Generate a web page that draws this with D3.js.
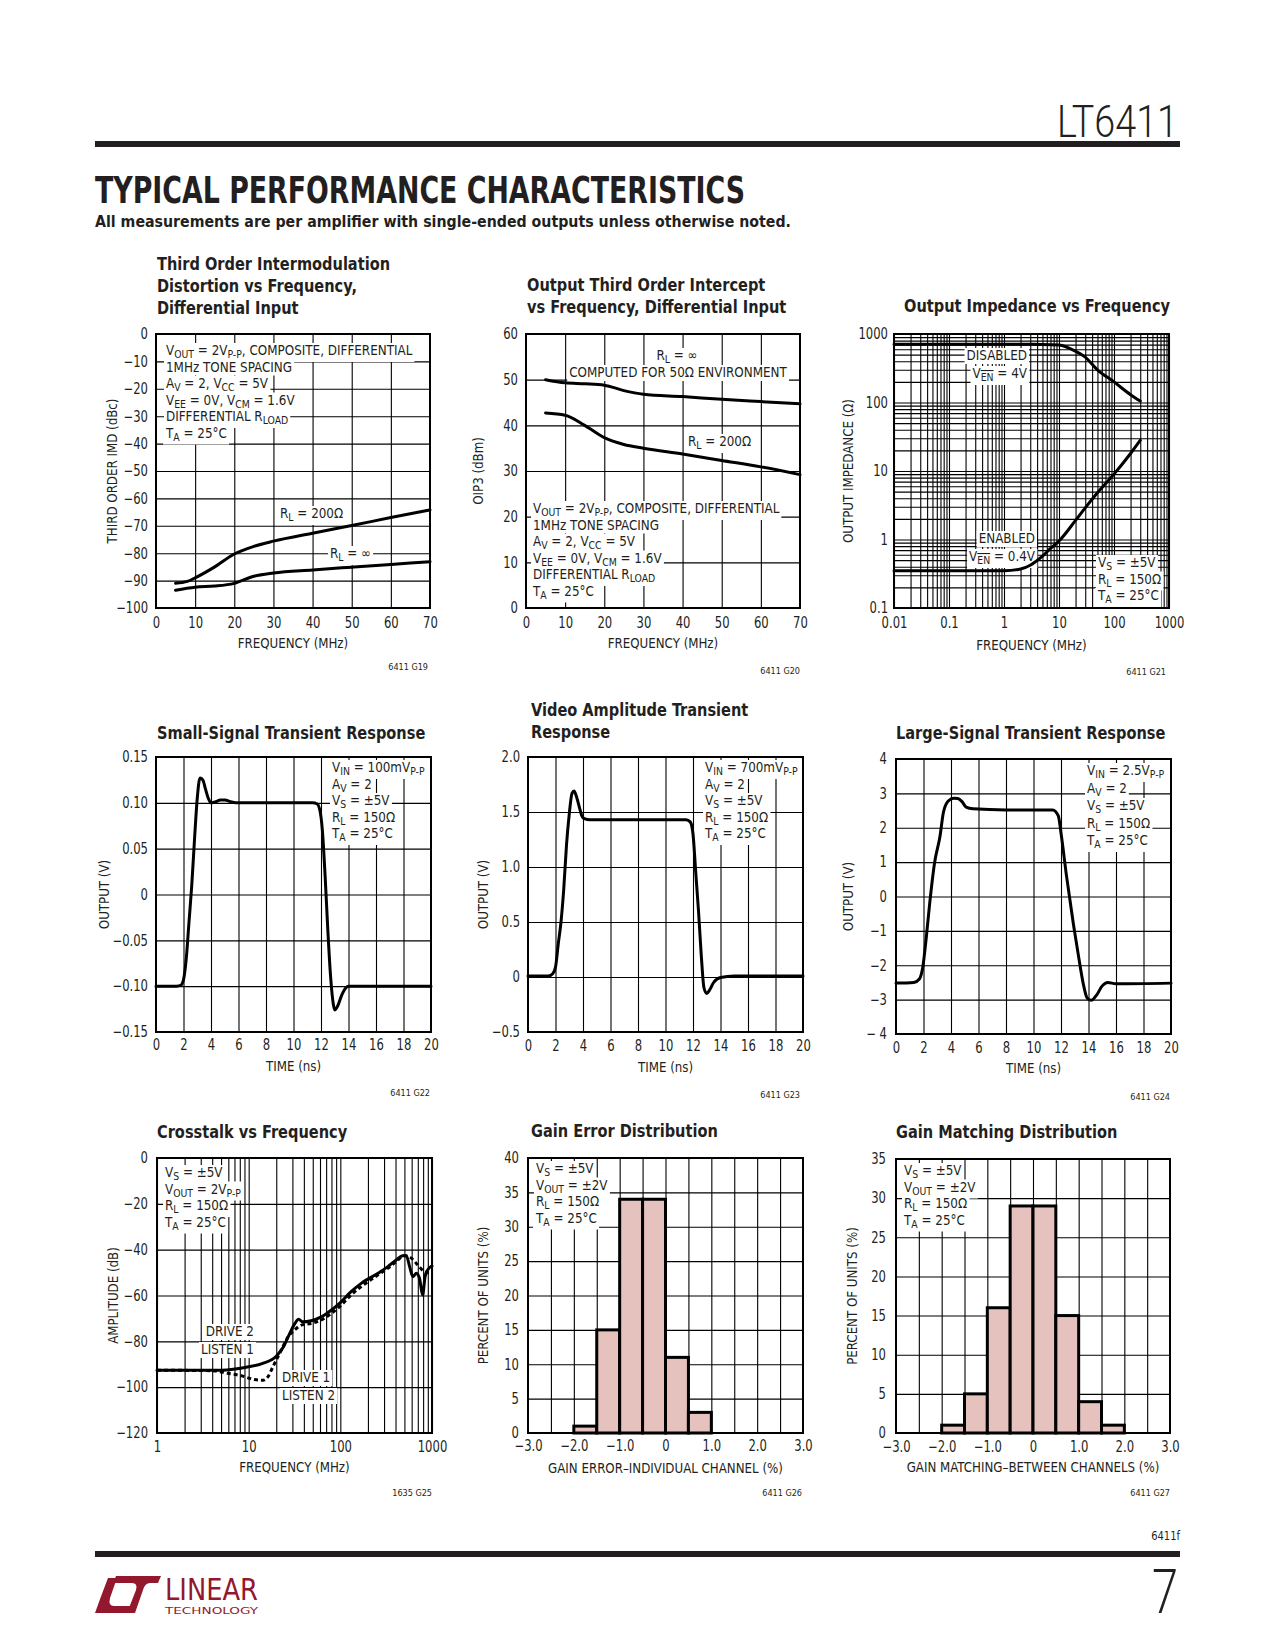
<!DOCTYPE html>
<html><head><meta charset="utf-8">
<script src="https://cdn.jsdelivr.net/npm/d3@7"></script>
<style>
body{margin:0;background:#fff;}
svg text{font-family:'Liberation Sans Narrow','DejaVu Sans Condensed','Arial Narrow',sans-serif;fill:#231f20;}
</style></head><body>
<svg id="page" width="1275" height="1650" xmlns="http://www.w3.org/2000/svg"></svg>
<script>
// ---------------- DATA ----------------
// G19 Third order IMD vs frequency
const imdFreq = [5, 8, 10, 15, 20, 25, 30, 40, 50, 60, 70];
const imdRL200 = [-91, -90.3, -89, -85, -80.3, -77.5, -75.6, -72.7, -69.9, -67, -64.2];
const imdFreqInf = [5, 10, 15, 20, 25, 30, 40, 50, 60, 70];
const imdRLinf = [-93.5, -92.4, -92, -91, -88.4, -87.2, -86.1, -85.1, -84.1, -83.1];
const imdXTicks = [0, 10, 20, 30, 40, 50, 60, 70];
const imdYTicks = [0, -10, -20, -30, -40, -50, -60, -70, -80, -90, -100];
const imdYLabels = ["0", "−10", "−20", "−30", "−40", "−50", "−60", "−70", "−80", "−90", "−100"];

// G20 OIP3 vs frequency
const oipFreq = [5, 10, 15, 20, 25, 30, 40, 50, 60, 70];
const oipRLinf = [50, 49.3, 49.1, 48.8, 47.6, 46.8, 46.3, 45.7, 45.2, 44.7];
const oipRL200 = [42.7, 42.2, 40, 37.3, 35.8, 35, 33.7, 32.3, 30.9, 29.2];
const oipXTicks = [0, 10, 20, 30, 40, 50, 60, 70];
const oipYTicks = [0, 10, 20, 30, 40, 50, 60];

// G21 Output impedance vs frequency
const zFreqDis = [0.01, 0.1, 1, 5, 10, 20, 30, 50, 100, 200, 300];
const zDisabled = [710, 710, 710, 705, 690, 560, 460, 300, 200, 130, 105];
const zFreqEn = [0.01, 0.1, 1, 2, 3, 5, 7, 10, 20, 30, 50, 100, 200, 300];
const zEnabled = [0.35, 0.35, 0.35, 0.37, 0.42, 0.57, 0.74, 0.95, 1.9, 2.9, 4.8, 9, 18, 28];
const zXTicks = [0.01, 0.1, 1, 10, 100, 1000];
const zXLabels = ["0.01", "0.1", "1", "10", "100", "1000"];
const zYTicks = [0.1, 1, 10, 100, 1000];
const zYLabels = ["0.1", "1", "10", "100", "1000"];

// G22 Small-signal transient
const ssTime = [0, 1.5, 1.8, 2.0, 2.2, 2.4, 2.6, 2.8, 3.0, 3.2, 3.4, 3.6, 3.8, 4.0, 4.3, 4.7, 5.0, 5.5, 6, 11.4, 11.7, 11.9, 12.1, 12.3, 12.5, 12.7, 12.9, 13.0, 13.2, 13.5, 13.8, 14.0, 20];
const ssOut = [-0.1, -0.1, -0.099, -0.093, -0.07, -0.03, 0.01, 0.06, 0.105, 0.127, 0.125, 0.115, 0.105, 0.1, 0.101, 0.103, 0.103, 0.101, 0.1, 0.1, 0.099, 0.093, 0.07, 0.02, -0.04, -0.09, -0.12, -0.126, -0.122, -0.11, -0.102, -0.1, -0.1];
const tXTicks = [0, 2, 4, 6, 8, 10, 12, 14, 16, 18, 20];
const ssYTicks = [-0.15, -0.1, -0.05, 0, 0.05, 0.1, 0.15];
const ssYLabels = ["−0.15", "−0.10", "−0.05", "0", "0.05", "0.10", "0.15"];

// G23 Video amplitude transient
const vaTime = [0, 1.5, 1.8, 2.0, 2.2, 2.4, 2.6, 2.8, 3.0, 3.2, 3.35, 3.5, 3.7, 3.9, 4.1, 4.5, 11.5, 11.8, 12.0, 12.2, 12.4, 12.6, 12.8, 13.0, 13.2, 13.5, 14, 15, 20];
const vaOut = [0.01, 0.01, 0.03, 0.09, 0.3, 0.5, 0.8, 1.2, 1.48, 1.67, 1.69, 1.65, 1.56, 1.47, 1.44, 1.43, 1.43, 1.41, 1.3, 0.95, 0.6, 0.2, -0.1, -0.15, -0.12, -0.05, -0.005, 0.01, 0.01];
const vaYTicks = [-0.5, 0, 0.5, 1, 1.5, 2];
const vaYLabels = ["−0.5", "0", "0.5", "1.0", "1.5", "2.0"];

// G24 Large-signal transient
const lsTime = [0, 1.3, 1.7, 1.95, 2.2, 2.45, 2.8, 3.2, 3.45, 3.8, 4.2, 4.5, 4.8, 5.1, 5.6, 8, 11.4, 11.8, 12.0, 12.4, 12.9, 13.3, 13.6, 13.9, 14.2, 14.6, 15.0, 15.4, 16, 20];
const lsOut = [-2.52, -2.5, -2.4, -2.05, -1.2, -0.2, 0.97, 1.75, 2.45, 2.78, 2.86, 2.85, 2.76, 2.6, 2.55, 2.52, 2.52, 2.35, 1.85, 0.6, -0.8, -1.8, -2.5, -2.95, -3.02, -2.86, -2.6, -2.5, -2.54, -2.52];
const lsYTicks = [-4, -3, -2, -1, 0, 1, 2, 3, 4];
const lsYLabels = ["− 4", "−3", "−2", "−1", "0", "1", "2", "3", "4"];

// G25 Crosstalk vs frequency
const xtFreqA = [1, 5, 10, 14, 20, 24, 28, 32, 35, 39, 48, 62, 80, 98, 131, 169, 258, 330, 407, 480, 525, 570, 620, 675, 730, 790, 840, 900, 1000];
const xtDrive2 = [-92.6, -92.6, -91.1, -89.7, -86.5, -82.4, -76.6, -72.2, -70.4, -71.5, -71, -69.3, -66.3, -63.4, -58.3, -54.7, -50.3, -47.4, -44.5, -42.6, -42.6, -47.4, -51.8, -50.3, -52.5, -59.8, -51.8, -48.8, -47.1];
const xtFreqB = [1, 4, 6, 8.3, 11.6, 14.3, 16.2, 18.4, 22.7, 27, 31.8, 37.6, 48, 62, 80, 98, 131, 169, 258, 330, 407, 500, 594, 700, 830, 1000];
const xtDrive1 = [-92.6, -92.8, -94, -95, -96.7, -97, -95.5, -91.1, -83.8, -78, -75, -72.9, -72.2, -70.7, -67.8, -64.9, -59.8, -56.1, -51, -48.1, -45.2, -42.6, -43.7, -46.7, -49.6, -50.3];
const xtXTicks = [1, 10, 100, 1000];
const xtYTicks = [0, -20, -40, -60, -80, -100, -120];
const xtYLabels = ["0", "−20", "−40", "−60", "−80", "−100", "−120"];

// G26 Gain error distribution
const geBinStart = [-2, -1.5, -1, -0.5, 0, 0.5];
const gePct = [1, 15, 34, 34, 11, 3];
// G27 Gain matching distribution
const gmBinStart = [-2, -1.5, -1, -0.5, 0, 0.5, 1, 1.5];
const gmPct = [1, 5, 16, 29, 29, 15, 4, 1];
const binWidth = 0.5;
const distXTicks = [-3, -2, -1, 0, 1, 2, 3];
const distXLabels = ["−3.0", "−2.0", "−1.0", "0", "1.0", "2.0", "3.0"];
const geYTicks = [0, 5, 10, 15, 20, 25, 30, 35, 40];
const gmYTicks = [0, 5, 10, 15, 20, 25, 30, 35];

// ---------------- DRAWING ----------------
const svg = d3.select('#page');
const INK = '#000';

function rich(t, str) {
  const parts = str.split(/(_\{[^}]*\}|~\{[^}]*\})/).filter(s => s.length);
  let shifted = false;
  parts.forEach(p => {
    const sub = p.startsWith('_{') || p.startsWith('~{');
    const txt = sub ? p.slice(2, -1) : p;
    const ts = t.append('tspan').text(txt);
    if (sub) {
      ts.attr('font-size', '0.78em');
      if (!shifted) ts.attr('dy', 3);
      shifted = true;
      if (p[0] === '~') ts.style('text-decoration', 'overline');
    } else {
      if (shifted) ts.attr('dy', -3);
      shifted = false;
    }
  });
}

function squeeze(node, f) {
  const w = node.getComputedTextLength();
  if (w > 0) {
    node.setAttribute('textLength', (w * f).toFixed(2));
    node.setAttribute('lengthAdjust', 'spacingAndGlyphs');
  }
}

function addText(g, x, y, str, o = {}) {
  const t = g.append('text').attr('x', x).attr('y', y)
    .attr('font-size', o.size || 14).attr('text-anchor', o.anchor || 'start');
  if (o.weight) t.attr('font-weight', o.weight);
  if (o.transform) t.attr('transform', o.transform);
  if (o.fill) t.style('fill', o.fill);
  if (o.family) t.style('font-family', o.family);
  rich(t, str);
  if (o.len) t.attr('textLength', o.len).attr('lengthAdjust', 'spacingAndGlyphs');
  else if (o.sq) squeeze(t.node(), o.sq);
  if (o.bg) {
    const b = t.node().getBBox();
    g.insert('rect', () => t.node())
      .attr('x', b.x - 2).attr('y', b.y + 1).attr('width', b.width + 4).attr('height', b.height)
      .attr('fill', '#fff');
  }
  return t;
}

function decadeGrid(lo, hi) {
  const out = [];
  for (let d = lo; d < hi; d *= 10) for (let k = 1; k <= 9; k++) out.push(d * k);
  out.push(hi);
  return out;
}

const SQ_TICK = 0.86, SQ_NOTE = 0.95, SQ_AXIS = 0.94, SQ_TITLE = 0.875;

function chart(c) {
  const g = svg.append('g');
  const L = c.L, T = c.T, W = c.W, H = c.H;
  const x = (c.xlog ? d3.scaleLog() : d3.scaleLinear()).domain(c.xdom).range([L, L + W]);
  const y = (c.ylog ? d3.scaleLog() : d3.scaleLinear()).domain(c.ydom).range([T + H, T]);

  // grid
  const gx = g.append('g').attr('transform', `translate(0,${T + H})`)
    .call(d3.axisBottom(x).tickValues(c.xgrid).tickSize(-H).tickFormat(''));
  gx.select('.domain').remove();
  gx.selectAll('line').attr('stroke', INK).attr('stroke-width', 1.1);
  const gy = g.append('g').attr('transform', `translate(${L},0)`)
    .call(d3.axisLeft(y).tickValues(c.ygrid).tickSize(-W).tickFormat(''));
  gy.select('.domain').remove();
  gy.selectAll('line').attr('stroke', INK).attr('stroke-width', 1.1);

  // bars
  if (c.bars) {
    g.append('g').selectAll('rect').data(c.bars.start).join('rect')
      .attr('x', d => x(d)).attr('width', d => x(d + binWidth) - x(d))
      .attr('y', (d, i) => y(c.bars.pct[i])).attr('height', (d, i) => y(0) - y(c.bars.pct[i]))
      .attr('fill', '#e5c2bd').attr('stroke', INK).attr('stroke-width', 3);
  }

  // annotations
  (c.notes || []).forEach(n => {
    n.lines.forEach((s, i) => addText(g, n.x, n.y + i * (n.dy || 16.5), s, { anchor: n.anchor, bg: true, size: 14, sq: SQ_NOTE }));
  });

  // series
  (c.series || []).forEach(s => {
    const pts = s.x.map((v, i) => [v, s.y[i]]);
    g.append('path').datum(pts)
      .attr('d', d3.line().x(d => x(d[0])).y(d => y(d[1])).curve(d3.curveMonotoneX))
      .attr('fill', 'none').attr('stroke', INK).attr('stroke-width', 3)
      .attr('stroke-linejoin', 'round').attr('stroke-linecap', s.dash ? 'butt' : 'round')
      .attr('stroke-dasharray', s.dash || null);
  });

  // frame
  g.append('rect').attr('x', L).attr('y', T).attr('width', W).attr('height', H)
    .attr('fill', 'none').attr('stroke', INK).attr('stroke-width', 2);

  // tick labels
  const ax = g.append('g').attr('transform', `translate(0,${T + H})`)
    .call(d3.axisBottom(x).tickValues(c.xticks).tickSize(0).tickPadding(c.xpad || 9)
      .tickFormat((d, i) => c.xlabels ? c.xlabels[i] : String(d)));
  ax.select('.domain').remove();
  ax.attr('font-size', 15).attr('font-family', null);
  const ay = g.append('g').attr('transform', `translate(${L},0)`)
    .call(d3.axisLeft(y).tickValues(c.yticks).tickSize(0).tickPadding(c.ypad || 8)
      .tickFormat((d, i) => c.ylabels ? c.ylabels[i] : String(d)));
  ay.select('.domain').remove();
  ay.attr('font-size', 15).attr('font-family', null);
  ax.selectAll('text').each(function () { squeeze(this, SQ_TICK); });
  ay.selectAll('text').each(function () { squeeze(this, SQ_TICK); });

  // axis titles
  addText(g, L + W / 2, c.xlabY, c.xlabel, { anchor: 'middle', size: 14, sq: SQ_AXIS });
  const yt = addText(g, 0, 0, c.ylabel, { anchor: 'middle', size: 14, sq: SQ_AXIS,
    transform: `translate(${c.ylabX},${T + H / 2}) rotate(-90)` });
  yt.attr('dominant-baseline', 'central');

  // chart title
  c.title.forEach((s, i) => addText(g, c.titleX, c.titleY + i * 22, s, { size: 18.5, weight: 'bold', sq: SQ_TITLE }));
  // source code
  addText(g, c.srcX, c.srcY, c.src, { anchor: 'end', size: 9 });
}

const condLines = ["V_{OUT} = 2V_{P-P}, COMPOSITE, DIFFERENTIAL", "1MHz TONE SPACING",
  "A_{V} = 2, V_{CC} = 5V", "V_{EE} = 0V, V_{CM} = 1.6V", "DIFFERENTIAL R_{LOAD}", "T_{A} = 25°C"];
const gridLin = (a, b, s) => d3.range(a, b + s / 2, s);

// G19
chart({ L: 156, T: 334, W: 274, H: 274, xdom: [0, 70], ydom: [-100, 0],
  xgrid: gridLin(10, 60, 10), ygrid: gridLin(-90, -10, 10),
  xticks: imdXTicks, yticks: imdYTicks, ylabels: imdYLabels,
  xlabel: 'FREQUENCY (MHz)', xlabY: 648, ylabel: 'THIRD ORDER IMD (dBc)', ylabX: 112,
  title: ['Third Order Intermodulation', 'Distortion vs Frequency,', 'Differential Input'], titleX: 157, titleY: 270,
  src: '6411 G19', srcX: 428, srcY: 670,
  notes: [{ x: 166, y: 355, lines: condLines },
    { x: 280, y: 518, lines: ['R_{L} = 200Ω'] }, { x: 330, y: 558, lines: ['R_{L} = ∞'] }],
  series: [{ x: imdFreq, y: imdRL200 }, { x: imdFreqInf, y: imdRLinf }] });

// G20
chart({ L: 526, T: 334, W: 274, H: 274, xdom: [0, 70], ydom: [0, 60],
  xgrid: gridLin(10, 60, 10), ygrid: gridLin(10, 50, 10),
  xticks: oipXTicks, yticks: oipYTicks,
  xlabel: 'FREQUENCY (MHz)', xlabY: 648, ylabel: 'OIP3 (dBm)', ylabX: 478,
  title: ['Output Third Order Intercept', 'vs Frequency, Differential Input'], titleX: 527, titleY: 291,
  src: '6411 G20', srcX: 800, srcY: 674,
  notes: [{ x: 677, y: 360, anchor: 'middle', lines: ['R_{L} = ∞'] },
    { x: 678, y: 377, anchor: 'middle', lines: ['COMPUTED FOR 50Ω ENVIRONMENT'] },
    { x: 688, y: 446, lines: ['R_{L} = 200Ω'] },
    { x: 533, y: 513, lines: condLines }],
  series: [{ x: oipFreq, y: oipRLinf }, { x: oipFreq, y: oipRL200 }] });

// G21
chart({ L: 894, T: 334, W: 275, H: 274, xlog: true, ylog: true, xdom: [0.01, 1000], ydom: [0.1, 1000],
  xgrid: decadeGrid(0.01, 1000), ygrid: decadeGrid(0.1, 1000),
  xticks: zXTicks, xlabels: zXLabels, yticks: zYTicks, ylabels: zYLabels, ypad: 6,
  xlabel: 'FREQUENCY (MHz)', xlabY: 650, ylabel: 'OUTPUT IMPEDANCE (Ω)', ylabX: 848,
  title: ['Output Impedance vs Frequency'], titleX: 904, titleY: 312,
  src: '6411 G21', srcX: 1166, srcY: 675,
  notes: [{ x: 1027, y: 360, anchor: 'end', dy: 18, lines: ['DISABLED', 'V~{EN} = 4V'] },
    { x: 1035, y: 543, anchor: 'end', dy: 18, lines: ['ENABLED', 'V~{EN} = 0.4V'] },
    { x: 1098, y: 567, lines: ['V_{S} = ±5V', 'R_{L} = 150Ω', 'T_{A} = 25°C'] }],
  series: [{ x: zFreqDis, y: zDisabled }, { x: zFreqEn, y: zEnabled }] });

// G22
chart({ L: 156, T: 757, W: 275, H: 275, xdom: [0, 20], ydom: [-0.15, 0.15],
  xgrid: gridLin(2, 18, 2), ygrid: [-0.1, -0.05, 0, 0.05, 0.1],
  xticks: tXTicks, yticks: ssYTicks, ylabels: ssYLabels, xpad: 7,
  xlabel: 'TIME (ns)', xlabY: 1071, ylabel: 'OUTPUT (V)', ylabX: 104,
  title: ['Small-Signal Transient Response'], titleX: 157, titleY: 739,
  src: '6411 G22', srcX: 430, srcY: 1096,
  notes: [{ x: 332, y: 772, lines: ['V_{IN} = 100mV_{P-P}', 'A_{V} = 2', 'V_{S} = ±5V', 'R_{L} = 150Ω', 'T_{A} = 25°C'] }],
  series: [{ x: ssTime, y: ssOut }] });

// G23
chart({ L: 528, T: 757, W: 275, H: 275, xdom: [0, 20], ydom: [-0.5, 2],
  xgrid: gridLin(2, 18, 2), ygrid: [0, 0.5, 1, 1.5],
  xticks: tXTicks, yticks: vaYTicks, ylabels: vaYLabels, xpad: 8,
  xlabel: 'TIME (ns)', xlabY: 1072, ylabel: 'OUTPUT (V)', ylabX: 483,
  title: ['Video Amplitude Transient', 'Response'], titleX: 531, titleY: 716,
  src: '6411 G23', srcX: 800, srcY: 1098,
  notes: [{ x: 705, y: 772, lines: ['V_{IN} = 700mV_{P-P}', 'A_{V} = 2', 'V_{S} = ±5V', 'R_{L} = 150Ω', 'T_{A} = 25°C'] }],
  series: [{ x: vaTime, y: vaOut }] });

// G24
chart({ L: 896, T: 759, W: 275, H: 275, xdom: [0, 20], ydom: [-4, 4],
  xgrid: gridLin(2, 18, 2), ygrid: gridLin(-3, 3, 1),
  xticks: tXTicks, yticks: lsYTicks, ylabels: lsYLabels, xpad: 8, ypad: 9,
  xlabel: 'TIME (ns)', xlabY: 1073, ylabel: 'OUTPUT (V)', ylabX: 848,
  title: ['Large-Signal Transient Response'], titleX: 896, titleY: 739,
  src: '6411 G24', srcX: 1170, srcY: 1100,
  notes: [{ x: 1087, y: 775, dy: 17.5, lines: ['V_{IN} = 2.5V_{P-P}', 'A_{V} = 2', 'V_{S} = ±5V', 'R_{L} = 150Ω', 'T_{A} = 25°C'] }],
  series: [{ x: lsTime, y: lsOut }] });

// G25
chart({ L: 157, T: 1158, W: 275, H: 275, xlog: true, xdom: [1, 1000], ydom: [-120, 0],
  xgrid: decadeGrid(1, 1000), ygrid: gridLin(-100, -20, 20),
  xticks: xtXTicks, yticks: xtYTicks, ylabels: xtYLabels, xpad: 8, ypad: 9,
  xlabel: 'FREQUENCY (MHz)', xlabY: 1472, ylabel: 'AMPLITUDE (dB)', ylabX: 113,
  title: ['Crosstalk vs Frequency'], titleX: 157, titleY: 1138,
  src: '1635 G25', srcX: 432, srcY: 1496,
  notes: [{ x: 165, y: 1177, lines: ['V_{S} = ±5V', 'V_{OUT} = 2V_{P-P}', 'R_{L} = 150Ω', 'T_{A} = 25°C'] },
    { x: 254, y: 1336, anchor: 'end', dy: 18, lines: ['DRIVE 2', 'LISTEN 1'] },
    { x: 282, y: 1382, dy: 18, lines: ['DRIVE 1', 'LISTEN 2'] }],
  series: [{ x: xtFreqB, y: xtDrive1, dash: '4,3' }, { x: xtFreqA, y: xtDrive2 }] });

// G26
chart({ L: 528, T: 1158, W: 275, H: 275, xdom: [-3, 3], ydom: [0, 40],
  xgrid: gridLin(-2.5, 2.5, 0.5), ygrid: gridLin(5, 35, 5),
  xticks: distXTicks, xlabels: distXLabels, yticks: geYTicks, xpad: 7, ypad: 9,
  xlabel: 'GAIN ERROR–INDIVIDUAL CHANNEL (%)', xlabY: 1473, ylabel: 'PERCENT OF UNITS (%)', ylabX: 483,
  title: ['Gain Error Distribution'], titleX: 531, titleY: 1137,
  src: '6411 G26', srcX: 802, srcY: 1496,
  bars: { start: geBinStart, pct: gePct },
  notes: [{ x: 536, y: 1173, lines: ['V_{S} = ±5V', 'V_{OUT} = ±2V', 'R_{L} = 150Ω', 'T_{A} = 25°C'] }] });

// G27
chart({ L: 896, T: 1159, W: 274, H: 274, xdom: [-3, 3], ydom: [0, 35],
  xgrid: gridLin(-2.5, 2.5, 0.5), ygrid: gridLin(5, 30, 5),
  xticks: distXTicks, xlabels: distXLabels, yticks: gmYTicks, xpad: 8, ypad: 10,
  xlabel: 'GAIN MATCHING–BETWEEN CHANNELS (%)', xlabY: 1472, ylabel: 'PERCENT OF UNITS (%)', ylabX: 852,
  title: ['Gain Matching Distribution'], titleX: 896, titleY: 1138,
  src: '6411 G27', srcX: 1170, srcY: 1496,
  bars: { start: gmBinStart, pct: gmPct },
  notes: [{ x: 904, y: 1175, lines: ['V_{S} = ±5V', 'V_{OUT} = ±2V', 'R_{L} = 150Ω', 'T_{A} = 25°C'] }] });

// ---------------- PAGE HEADER / FOOTER ----------------
const pg = svg.append('g');
addText(pg, 1178, 137, 'LT6411', { anchor: 'end', size: 45, len: 121, family: 'Roboto' }).attr('font-weight', 300);
pg.append('rect').attr('x', 95).attr('y', 141).attr('width', 1085).attr('height', 6).attr('fill', '#231f20');
addText(pg, 95, 203, 'TYPICAL PERFORMANCE CHARACTERISTICS', { size: 38, weight: 'bold', len: 650 });
addText(pg, 95, 227, 'All measurements are per amplifier with single-ended outputs unless otherwise noted.', { size: 16.5, weight: 'bold', len: 696 });

addText(pg, 1180, 1540, '6411f', { anchor: 'end', size: 13, sq: 0.85 });
pg.append('rect').attr('x', 95).attr('y', 1551).attr('width', 1085).attr('height', 6).attr('fill', '#231f20');
addText(pg, 1178, 1613, '7', { anchor: 'end', size: 62, family: 'Roboto', len: 26 }).attr('font-weight', 300);

// logo
const LOGO = '#93182d';
pg.append('path').attr('fill', LOGO)
  .attr('d', 'M95,1613 L134,1613 L137,1606 L114,1606 Q108,1606 110,1598 L117,1578 L108,1578 Q101,1596 95,1613 Z');
pg.append('path').attr('fill', LOGO)
  .attr('d', 'M116,1576 L161,1576 L158,1583 L150,1583 Q145,1583 143,1590 L135,1613 L127,1613 L136,1590 Q138,1583 132,1583 L113,1583 Z');
addText(pg, 165, 1600, 'LINEAR', { size: 30, len: 93, fill: LOGO });
addText(pg, 165, 1614, 'TECHNOLOGY', { size: 9.5, len: 93, fill: LOGO });
</script>
</body></html>
